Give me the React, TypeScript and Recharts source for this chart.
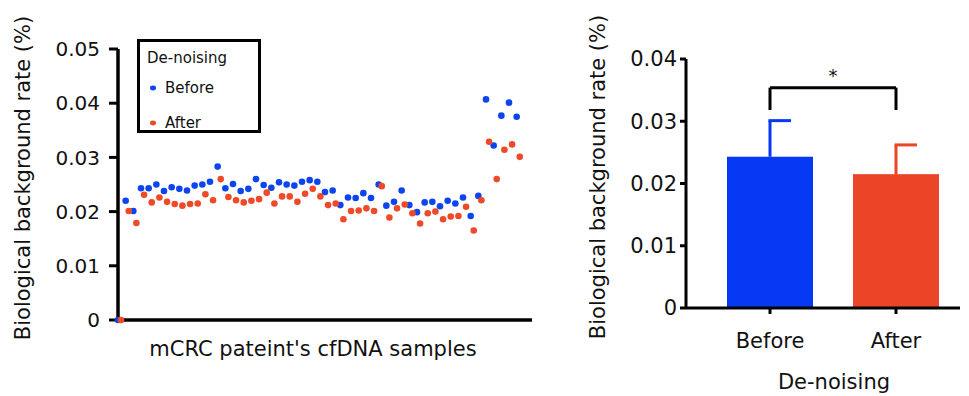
import React from 'react';
import {
  ScatterChart, Scatter, XAxis, YAxis, Legend, BarChart, Bar, Cell, ReferenceLine, Label,
} from 'recharts';

// ---------- data ----------
const sampleIndex = Array.from({ length: 53 }, (_, i) => i);
const beforeRates = [
  0, 0.0220, 0.0201, 0.0243, 0.0243, 0.0250, 0.0238, 0.0245, 0.0242, 0.0239, 0.0248,
  0.0250, 0.0255, 0.0283, 0.0243, 0.0251, 0.0238, 0.0242, 0.0260, 0.0249, 0.0244,
  0.0254, 0.0250, 0.0248, 0.0255, 0.0258, 0.0255, 0.0236, 0.0239, 0.0212, 0.0226,
  0.0225, 0.0234, 0.0225, 0.0250, 0.0211, 0.0218, 0.0239, 0.0212, 0.0199, 0.0217,
  0.0218, 0.0210, 0.0220, 0.0215, 0.0226, 0.0192, 0.0229, 0.0407, 0.0322, 0.0377,
  0.0401, 0.0375,
];
const afterRates = [
  0, 0.0201, 0.0179, 0.0231, 0.0217, 0.0226, 0.0218, 0.0214, 0.0211, 0.0214, 0.0215,
  0.0232, 0.0221, 0.0260, 0.0227, 0.0221, 0.0217, 0.0220, 0.0223, 0.0235, 0.0215,
  0.0228, 0.0228, 0.0218, 0.0233, 0.0242, 0.0228, 0.0212, 0.0215, 0.0186, 0.0201,
  0.0202, 0.0206, 0.0201, 0.0247, 0.0189, 0.0206, 0.0213, 0.0197, 0.0178, 0.0197,
  0.0200, 0.0186, 0.0191, 0.0192, 0.0209, 0.0165, 0.0221, 0.0329, 0.0260, 0.0314,
  0.0324, 0.0301,
];
const leftTicks = [0, 0.01, 0.02, 0.03, 0.04, 0.05];

const groups = ['Before', 'After'];
const groupMeans = [0.0243, 0.0215];
const groupSD = [0.0058, 0.0047];
const rightTicks = [0, 0.01, 0.02, 0.03, 0.04];
const bracketLevel = 0.0354;
const bracketFoot = 0.0318;

const seriesNames = ['Before', 'After'];
const dotColors = ['#0c45f0', '#ee4a2a'];
const barColors = ['#0539f3', '#e94526'];

const beforeData = sampleIndex.map((s, k) => ({ sample: s, rate: beforeRates[k] }));
const afterData = sampleIndex.map((s, k) => ({ sample: s, rate: afterRates[k] }));
const barData = groups.map((g, i) => ({ group: g, mean: groupMeans[i], sd: groupSD[i] }));

const FONT = 'DejaVu Sans';
const fmt = (v: number) => (v === 0 ? '0' : v.toFixed(2));

const Dot = (color: string) => (p: any) => (
  <circle cx={p.cx} cy={p.cy} r={3.3} fill={color} />
);

const LegendBox = (props: any) => {
  const payload = [...(props.payload || [])].sort(
    (a: any, b: any) => seriesNames.indexOf(a.value) - seriesNames.indexOf(b.value),
  );
  return (
    <div style={{
      position: 'relative', width: 124, height: 94, border: '3px solid #000',
      boxSizing: 'border-box', fontFamily: FONT, fontSize: 15, color: '#111', background: '#fff',
    }}>
      <div style={{ position: 'absolute', left: 7, top: 7, lineHeight: '18px', whiteSpace: 'nowrap' }}>De-noising</div>
      {payload.map((p: any, i: number) => (
        <div key={p.value} style={{
          position: 'absolute', left: 9, top: 37 + i * 35, display: 'flex',
          alignItems: 'center', lineHeight: '18px', whiteSpace: 'nowrap',
        }}>
          <svg width={8} height={8} style={{ marginRight: 8 }}>
            <ellipse cx={4} cy={4} rx={3} ry={2.4} fill={p.color} />
          </svg>
          <span>{p.value}</span>
        </div>
      ))}
    </div>
  );
};

const BarWithError = (props: any) => {
  const { x, y, width, height, fill, payload } = props;
  const pxPerUnit = height / payload.mean;
  const errTop = y - payload.sd * pxPerUnit;
  const cx = x + width / 2;
  return (
    <g>
      <rect x={x} y={y} width={width} height={height} fill={fill} />
      <line x1={cx} y1={y} x2={cx} y2={errTop} stroke={fill} strokeWidth={3} />
      <line x1={cx - 1.5} y1={errTop} x2={cx + 21} y2={errTop} stroke={fill} strokeWidth={3} />
    </g>
  );
};

const RotLabel = (text: string, dx: number, dy: number) => (p: any) => {
  const vb = p.viewBox || {};
  const cx = vb.x + dx;
  const cy = vb.y + vb.height / 2 + dy;
  return (
    <text x={cx} y={cy} transform={`rotate(-90 ${cx} ${cy})`} textAnchor="middle"
      dominantBaseline="central" fontFamily={FONT} fontSize={21} fill="#111">{text}</text>
  );
};

const BottomLabel = (text: string, dx: number, dy: number, size: number) => (p: any) => {
  const vb = p.viewBox || {};
  const cx = vb.x + vb.width / 2 + dx;
  const cy = vb.y + dy;
  return (
    <text x={cx} y={cy} textAnchor="middle" dominantBaseline="central"
      fontFamily={FONT} fontSize={size} fill="#111">{text}</text>
  );
};

export default function App() {
  return (
    <div style={{ position: 'absolute', left: 0, top: 0, width: 969, height: 396, background: '#fff', fontFamily: FONT }}>
      <div style={{ position: 'absolute', left: 0, top: 0 }}>
        <ScatterChart width={560} height={396} margin={{ top: 49, right: 28, bottom: 46, left: 18 }}>
          <XAxis xAxisId="before" type="number" dataKey="sample" domain={[0, 54]} tick={false}
            tickLine={false} height={30} axisLine={{ stroke: '#000', strokeWidth: 3.5 }}>
            <Label content={BottomLabel("mCRC pateint's cfDNA samples", -12, 29, 21)} />
          </XAxis>
          <XAxis xAxisId="after" type="number" dataKey="sample" domain={[-0.4, 53.6]} hide
            height={0} orientation="top" />
          <YAxis type="number" dataKey="rate" domain={[0, 0.05]} ticks={leftTicks} tickFormatter={fmt}
            width={100} interval={0} tickSize={9} tickMargin={9}
            axisLine={{ stroke: '#000', strokeWidth: 3.5 }}
            tickLine={{ stroke: '#000', strokeWidth: 3 }}
            tick={{ fill: '#111', fontSize: 20, fontFamily: FONT }}>
            <Label content={RotLabel('Biological background rate (%)', 4.5, -6.5)} />
          </YAxis>
          <Legend layout="vertical" align="center" verticalAlign="middle" content={LegendBox}
            wrapperStyle={{ position: 'absolute', left: 137, top: 39, width: 124, height: 94 }} />
          <Scatter name={seriesNames[0]} data={beforeData} xAxisId="before" fill={dotColors[0]}
            shape={Dot(dotColors[0])} isAnimationActive={false} />
          <Scatter name={seriesNames[1]} data={afterData} xAxisId="after" fill={dotColors[1]}
            shape={Dot(dotColors[1])} isAnimationActive={false} />
        </ScatterChart>
      </div>
      <div style={{ position: 'absolute', left: 580, top: 0 }}>
        <BarChart width={389} height={396} data={barData} margin={{ top: 59, right: 9, bottom: 38, left: 16 }}>
          <XAxis dataKey="group" height={50} padding={{ left: 21, right: 1 }} tickSize={6} tickMargin={19}
            axisLine={{ stroke: '#000', strokeWidth: 3 }}
            tickLine={{ stroke: '#000', strokeWidth: 3 }}
            tick={{ fill: '#111', fontSize: 21, fontFamily: FONT }}>
            <Label content={BottomLabel('De-noising', 11, 74, 21)} />
          </XAxis>
          <YAxis domain={[0, 0.04]} ticks={rightTicks} tickFormatter={fmt} width={90} interval={0}
            tickSize={6} tickMargin={3}
            axisLine={{ stroke: '#000', strokeWidth: 3 }}
            tickLine={{ stroke: '#000', strokeWidth: 3 }}
            tick={{ fill: '#111', fontSize: 21, fontFamily: FONT }}>
            <Label content={RotLabel('Biological background rate (%)', 1.5, -6.5)} />
          </YAxis>
          <Bar dataKey="mean" barSize={86} shape={BarWithError} isAnimationActive={false}>
            {barData.map((d, i) => <Cell key={d.group} fill={barColors[i]} />)}
          </Bar>
          <ReferenceLine segment={[{ x: groups[0], y: bracketLevel }, { x: groups[1], y: bracketLevel }]}
            stroke="#000" strokeWidth={3}
            label={{ value: '*', position: 'top', offset: 6, fill: '#111', fontSize: 18, fontFamily: FONT }} />
          <ReferenceLine segment={[{ x: groups[0], y: bracketLevel }, { x: groups[0], y: bracketFoot }]}
            stroke="#000" strokeWidth={3} />
          <ReferenceLine segment={[{ x: groups[1], y: bracketLevel }, { x: groups[1], y: bracketFoot }]}
            stroke="#000" strokeWidth={3} />
        </BarChart>
      </div>
    </div>
  );
}
